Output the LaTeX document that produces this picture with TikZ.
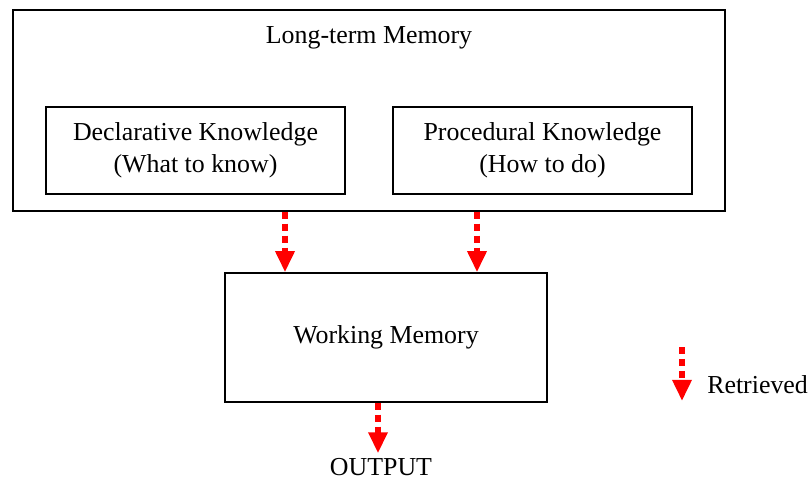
\documentclass[tikz,border=0pt]{standalone}
\usepackage{fontspec}
\setmainfont{Liberation Serif}
\usetikzlibrary{arrows.meta}
\begin{document}
\begin{tikzpicture}[x=0.025cm, y=-0.025cm, font=\fontsize{18.4}{23}\selectfont]
        \tikzstyle{box} = [draw=black, line width=1pt, rectangle, align=center, inner sep=0pt]
        \tikzstyle{retr} = [draw=red, line width=4.3pt, dash pattern=on 5pt off 3.5pt, -{Triangle[width=13pt,length=15pt]}, red]
        \useasboundingbox (0,0) rectangle (812,481);
        \node[box, minimum width=17.8cm, minimum height=5.025cm] (ltm) at (369,110.5) {};
        \node (ltmlabel) at (369,38) {Long-term Memory};
        \node[box, minimum width=7.475cm, minimum height=2.175cm] (decl) at (195.5,150.5) {Declarative Knowledge\\(What to know)};
        \node[box, minimum width=7.475cm, minimum height=2.175cm] (proc) at (542.5,150.5) {Procedural Knowledge\\(How to do)};
        \node[box, minimum width=8.05cm, minimum height=3.225cm] (wm) at (386,337.5) {Working Memory};
        \node (out) at (381,467) {OUTPUT};
        \node[anchor=west, inner sep=0pt] (leg) at (707,385) {Retrieved};
        \coordinate (r1) at (285,0);
        \coordinate (r2) at (477,0);
        \coordinate (r3) at (378,0);
        \coordinate (l1) at (682,347);
        \coordinate (l2) at (682,401);
        \path
                (ltm.south -| r1) edge[retr] (wm.north -| r1)
                (ltm.south -| r2) edge[retr] (wm.north -| r2)
                (wm.south -| r3) edge[retr] (out.north -| r3)
                (l1) edge[retr] (l2);
\end{tikzpicture}
\end{document}
